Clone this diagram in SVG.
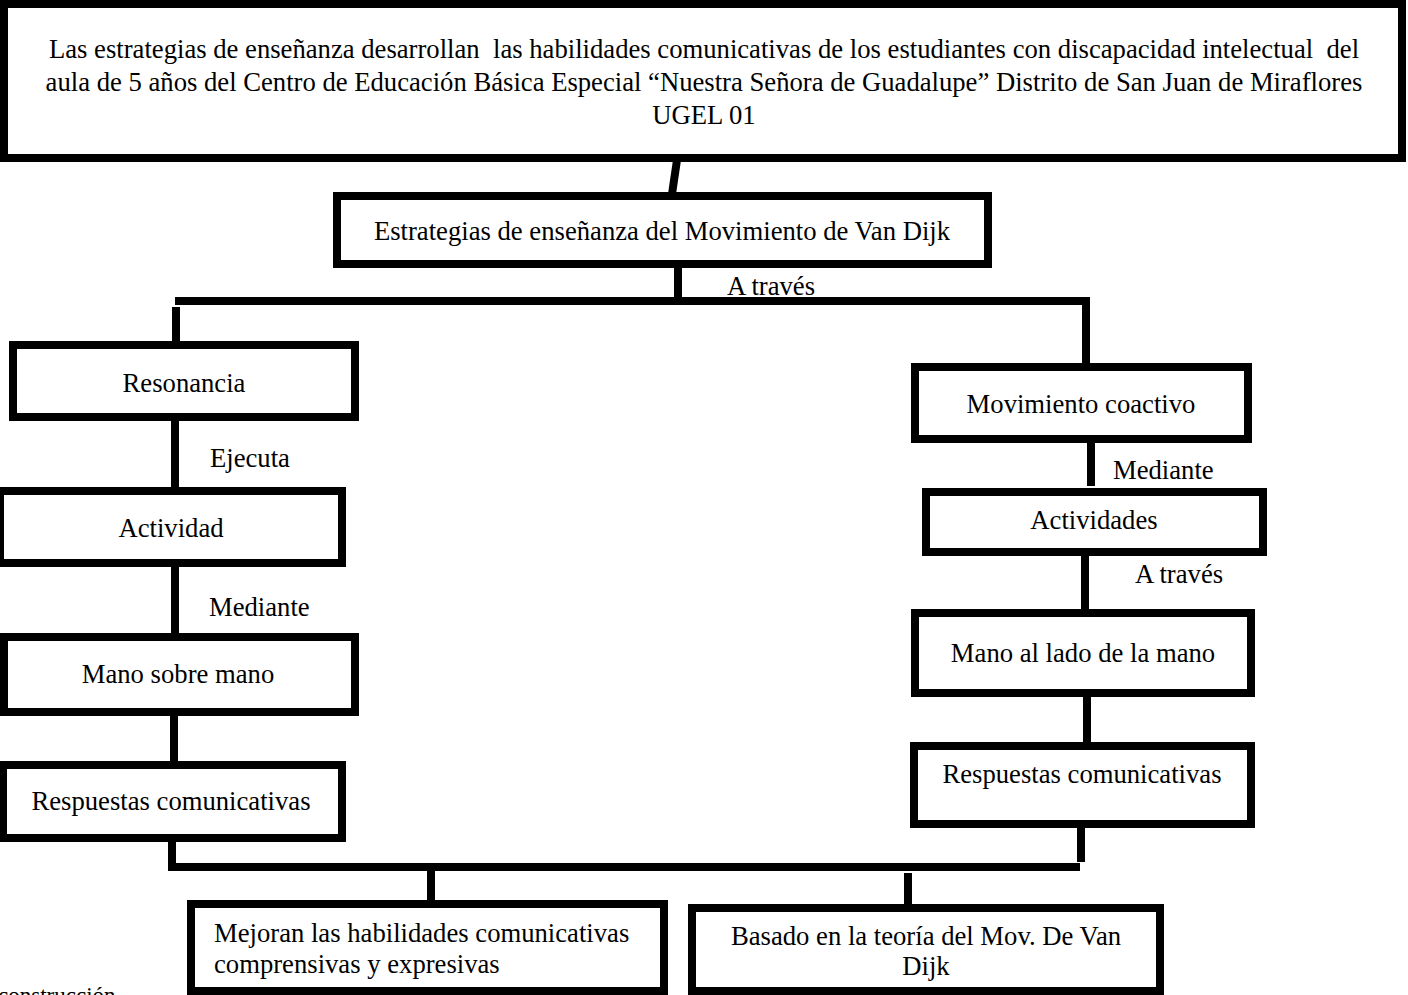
<svg xmlns="http://www.w3.org/2000/svg" width="1408" height="995" viewBox="0 0 1408 995">
<style>
  .box { fill: #ffffff; stroke: #000000; stroke-width: 8; }
  .con { fill: none; stroke: #000000; stroke-width: 8; stroke-linecap: butt; stroke-linejoin: miter; }
  text { font-family: "Liberation Serif", "Times New Roman", serif; font-size: 26.67px; fill: #000000; }
  .c { text-anchor: middle; }
  .pre { white-space: pre; }
</style>
<rect x="0" y="0" width="1408" height="995" fill="#ffffff"/>
<g id="connectors">
  <line class="con" x1="677" y1="160" x2="672" y2="194"/>
  <line class="con" x1="678" y1="268" x2="678" y2="301"/>
  <polyline class="con" points="175,301 1086,301 1086,363"/>
  <line class="con" x1="176" y1="307" x2="176" y2="341"/>
  <line class="con" x1="175" y1="421" x2="175" y2="487"/>
  <line class="con" x1="175" y1="567" x2="175" y2="633"/>
  <line class="con" x1="174" y1="716" x2="174" y2="761"/>
  <line class="con" x1="1091" y1="443" x2="1091" y2="486"/>
  <line class="con" x1="1085" y1="556" x2="1085" y2="612"/>
  <line class="con" x1="1087" y1="697" x2="1087" y2="742"/>
  <polyline class="con" points="172,838 172,867 1080,867"/>
  <line class="con" x1="1081" y1="828" x2="1081" y2="862"/>
  <line class="con" x1="431" y1="871" x2="431" y2="900"/>
  <line class="con" x1="908" y1="873" x2="908" y2="904"/>
</g>
<g id="labels">
  <text class="c" x="771" y="295">A través</text>
  <text x="210" y="467">Ejecuta</text>
  <text x="209" y="616">Mediante</text>
  <text x="1113" y="479">Mediante</text>
  <text x="1135" y="583">A través</text>
</g>
<g id="n-titulo">
  <rect class="box" x="4" y="4" width="1398" height="154"/>
  <text class="c pre" x="704" y="58" xml:space="preserve">Las estrategias de enseñanza desarrollan  las habilidades comunicativas de los estudiantes con discapacidad intelectual  del</text>
  <text class="c" x="704" y="91">aula de 5 años del Centro de Educación Básica Especial “Nuestra Señora de Guadalupe” Distrito de San Juan de Miraflores</text>
  <text class="c" x="704" y="124">UGEL 01</text>
</g>
<g id="n-estrategias">
  <rect class="box" x="337" y="196" width="651" height="68"/>
  <text class="c" x="662" y="240">Estrategias de enseñanza del Movimiento de Van Dijk</text>
</g>
<g id="n-resonancia">
  <rect class="box" x="13" y="345" width="342" height="72"/>
  <text class="c" x="184" y="392">Resonancia</text>
</g>
<g id="n-coactivo">
  <rect class="box" x="915" y="367" width="333" height="72"/>
  <text class="c" x="1081" y="413">Movimiento coactivo</text>
</g>
<g id="n-actividad">
  <rect class="box" x="0" y="491" width="342" height="72"/>
  <text class="c" x="171" y="537">Actividad</text>
</g>
<g id="n-actividades">
  <rect class="box" x="926" y="492" width="337" height="60"/>
  <text class="c" x="1094" y="529">Actividades</text>
</g>
<g id="n-mano-sobre">
  <rect class="box" x="4" y="637" width="351" height="75"/>
  <text class="c" x="178" y="683">Mano sobre mano</text>
</g>
<g id="n-mano-lado">
  <rect class="box" x="915" y="613" width="336" height="80"/>
  <text class="c" x="1083" y="662">Mano al lado de la mano</text>
</g>
<g id="n-respuestas-izq">
  <rect class="box" x="3" y="765" width="339" height="73"/>
  <text class="c" x="171" y="810">Respuestas comunicativas</text>
</g>
<g id="n-respuestas-der">
  <rect class="box" x="914" y="746" width="337" height="78"/>
  <text class="c" x="1082" y="783">Respuestas comunicativas</text>
</g>
<g id="n-mejoran">
  <rect class="box" x="191" y="904" width="473" height="87"/>
  <text x="214" y="942">Mejoran las habilidades comunicativas</text>
  <text x="214" y="973">comprensivas y expresivas</text>
</g>
<g id="n-basado">
  <rect class="box" x="692" y="908" width="468" height="83"/>
  <text class="c" x="926" y="945">Basado en la teoría del Mov. De Van</text>
  <text class="c" x="926" y="975">Dijk</text>
</g>
<g id="nota">
  <text x="-2" y="1003" style="font-size:23px">construcción</text>
</g>
</svg>
